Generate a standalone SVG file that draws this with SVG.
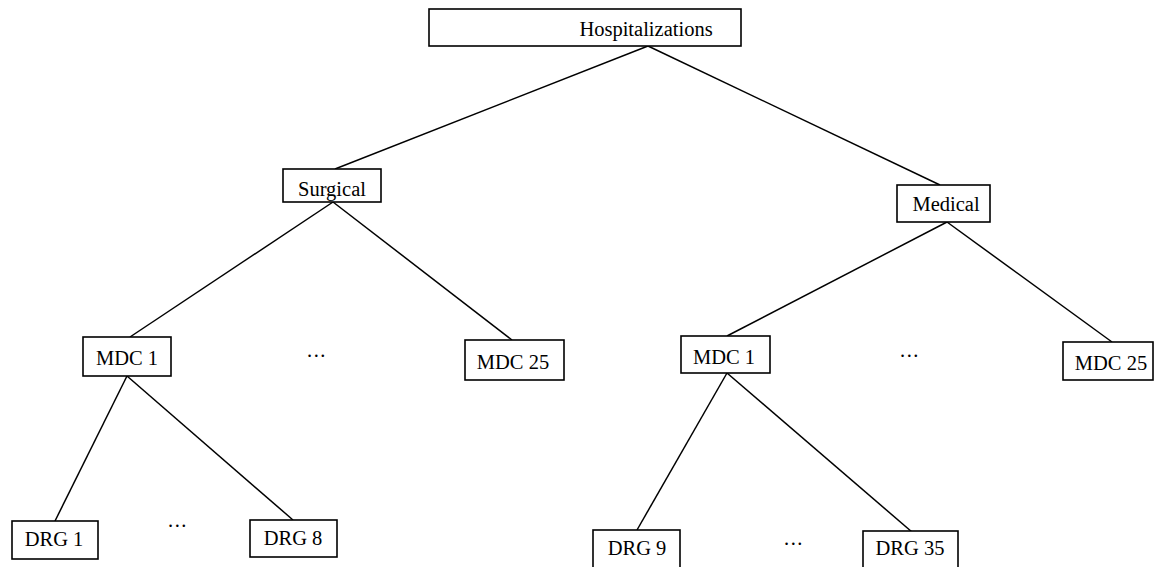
<svg xmlns="http://www.w3.org/2000/svg" width="1156" height="567" viewBox="0 0 1156 567">
<style>
.box{fill:#fff;stroke:#000;stroke-width:1.6}
.t{font-family:"Liberation Serif","Times New Roman",serif;font-size:20.5px;fill:#000;text-anchor:middle}
.e{font-family:"Liberation Serif","Times New Roman",serif;font-size:20.5px;fill:#000;text-anchor:middle;letter-spacing:1.5px}
.c{stroke:#000;stroke-width:1.5;fill:none}
</style>
<rect width="1156" height="567" fill="#fff"/>
<g id="connectors">
<line class="c" x1="648" y1="46" x2="335" y2="169"/>
<line class="c" x1="648" y1="46" x2="940" y2="185"/>
<line class="c" x1="333" y1="202" x2="130" y2="337"/>
<line class="c" x1="333" y1="202" x2="512" y2="340"/>
<line class="c" x1="947" y1="222" x2="727" y2="336"/>
<line class="c" x1="947" y1="222" x2="1112" y2="342"/>
<line class="c" x1="127" y1="376" x2="55" y2="521"/>
<line class="c" x1="127" y1="376" x2="293" y2="520"/>
<line class="c" x1="727" y1="373" x2="637" y2="530"/>
<line class="c" x1="727" y1="373" x2="912" y2="532"/>
</g>
<g id="hospitalizations"><rect class="box" x="429" y="9" width="312" height="37"/><text class="t" x="646" y="36">Hospitalizations</text></g>
<g id="surgical"><rect class="box" x="283" y="169" width="98" height="33"/><text class="t" x="332" y="196">Surgical</text></g>
<g id="medical"><rect class="box" x="897" y="185" width="93" height="37"/><text class="t" x="946" y="211">Medical</text></g>
<g id="mdc1-surgical"><rect class="box" x="83" y="337" width="88" height="39"/><text class="t" x="127" y="365">MDC 1</text></g>
<g id="mdc25-surgical"><rect class="box" x="465" y="340" width="99" height="40"/><text class="t" x="513" y="369">MDC 25</text></g>
<g id="mdc1-medical"><rect class="box" x="681" y="336" width="89" height="37"/><text class="t" x="724" y="364">MDC 1</text></g>
<g id="mdc25-medical"><rect class="box" x="1063" y="342" width="90" height="38"/><text class="t" x="1111" y="370">MDC 25</text></g>
<g id="drg1"><rect class="box" x="12" y="521" width="86" height="38"/><text class="t" x="54" y="546">DRG 1</text></g>
<g id="drg8"><rect class="box" x="250" y="520" width="87" height="37"/><text class="t" x="293" y="545">DRG 8</text></g>
<g id="drg9"><rect class="box" x="593" y="530" width="87" height="40"/><text class="t" x="637" y="555">DRG 9</text></g>
<g id="drg35"><rect class="box" x="863" y="531" width="95" height="40"/><text class="t" x="910" y="555">DRG 35</text></g>
<g id="ellipses">
<text class="e" x="317" y="357">...</text>
<text class="e" x="910" y="357">...</text>
<text class="e" x="178" y="527">...</text>
<text class="e" x="794" y="545">...</text>
</g>
</svg>
